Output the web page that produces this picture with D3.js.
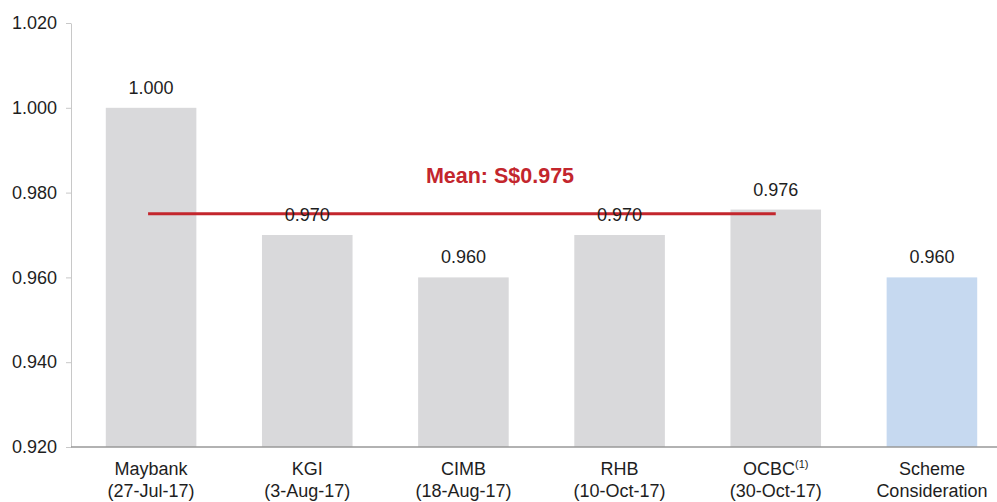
<!DOCTYPE html>
<html>
<head>
<meta charset="utf-8">
<script src="https://cdn.jsdelivr.net/npm/d3@7"></script>
<style>
  body { margin: 0; background: #fff; }
  text { font-family: "Liberation Sans", Arial, sans-serif; }
</style>
</head>
<body>
<svg width="997" height="502"></svg>
<script>
// data
const brokers = ['Maybank', 'KGI', 'CIMB', 'RHB', 'OCBC', 'Scheme'];
const subLabels = ['(27-Jul-17)', '(3-Aug-17)', '(18-Aug-17)', '(10-Oct-17)', '(30-Oct-17)', 'Consideration'];
const prices = [1.000, 0.970, 0.960, 0.970, 0.976, 0.960];
const yTicks = [0.920, 0.940, 0.960, 0.980, 1.000, 1.020];
const meanValue = 0.975;

const svg = d3.select('svg');

const xScale = d3.scaleBand()
  .domain(brokers)
  .range([73, 1010])
  .paddingInner(0.42)
  .paddingOuter(0.21);

const yScale = d3.scaleLinear()
  .domain([0.92, 1.02])
  .range([447, 23]);

// y axis
const yAxis = svg.append('g')
  .attr('transform', 'translate(71,0)')
  .call(d3.axisLeft(yScale).tickValues(yTicks).tickFormat(d3.format('.3f')).tickSize(5).tickSizeOuter(0));
yAxis.select('.domain').attr('stroke', '#c8c8c8');
yAxis.selectAll('.tick line').attr('stroke', '#c8c8c8');
yAxis.selectAll('.tick text')
  .attr('x', -14)
  .attr('fill', '#1e1e1e')
  .style('font-size', '18px');

// bars
svg.selectAll('.bar')
  .data(prices)
  .enter()
  .append('rect')
  .classed('bar', true)
  .attr('x', (d, i) => xScale(brokers[i]))
  .attr('y', d => yScale(d))
  .attr('width', xScale.bandwidth())
  .attr('height', d => yScale(0.92) - yScale(d))
  .attr('fill', (d, i) => i === brokers.length - 1 ? '#c6d9f0' : '#d9d9db');

// x axis line
svg.append('line')
  .attr('x1', 71).attr('x2', 997)
  .attr('y1', yScale(0.92)).attr('y2', yScale(0.92))
  .attr('stroke', '#999')
  .attr('stroke-width', 1.5);

// mean line
const meanX1 = xScale(brokers[0]) + xScale.bandwidth() / 2 - 3;
const meanX2 = xScale(brokers[4]) + xScale.bandwidth() / 2;
svg.append('line')
  .attr('x1', meanX1).attr('x2', meanX2)
  .attr('y1', yScale(meanValue)).attr('y2', yScale(meanValue))
  .attr('stroke', '#c3262d')
  .attr('stroke-width', 3);

svg.append('text')
  .attr('x', 500)
  .attr('y', 183)
  .attr('text-anchor', 'middle')
  .attr('fill', '#c3262d')
  .style('font-size', '21.5px')
  .style('font-weight', 'bold')
  .text('Mean: S$' + meanValue.toFixed(3));

// value labels
svg.selectAll('.label')
  .data(prices)
  .enter()
  .append('text')
  .classed('label', true)
  .attr('x', (d, i) => xScale(brokers[i]) + xScale.bandwidth() / 2)
  .attr('y', d => yScale(d) - 14)
  .attr('text-anchor', 'middle')
  .attr('fill', '#1e1e1e')
  .style('font-size', '18px')
  .text(d => d.toFixed(3));

// category labels
const cats = svg.selectAll('.cat')
  .data(brokers)
  .enter()
  .append('text')
  .classed('cat', true)
  .attr('x', d => xScale(d) + xScale.bandwidth() / 2)
  .attr('text-anchor', 'middle')
  .attr('fill', '#1e1e1e')
  .style('font-size', '18px');

cats.append('tspan')
  .attr('x', d => xScale(d) + xScale.bandwidth() / 2)
  .attr('y', 475)
  .text(d => d);
cats.filter(d => d === 'OCBC')
  .append('tspan')
  .attr('dy', -7)
  .style('font-size', '11px')
  .text('(1)');
cats.append('tspan')
  .attr('x', d => xScale(d) + xScale.bandwidth() / 2)
  .attr('y', 497)
  .text((d, i) => subLabels[i]);
</script>
</body>
</html>
